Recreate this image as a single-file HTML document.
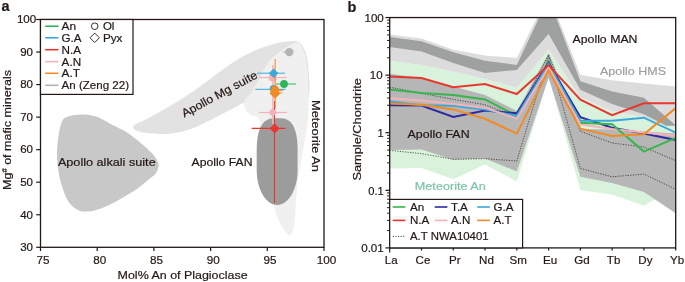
<!DOCTYPE html>
<html><head><meta charset="utf-8"><title>Figure</title>
<style>
html,body{margin:0;padding:0;background:#fff;}
svg{display:block;will-change:transform;opacity:0.999;}
text{font-family:"Liberation Sans",sans-serif;}
</style></head>
<body>
<svg width="685" height="282" viewBox="0 0 685 282">
<rect width="685" height="282" fill="#fff"/>
<path d="M57.0,152.0 C57.1,147.4 57.6,142.1 58.4,137.0 C59.2,131.9 60.2,125.0 62.0,121.5 C63.8,118.0 65.8,117.5 69.0,116.3 C72.2,115.1 77.4,114.7 81.2,114.6 C85.0,114.5 88.6,115.0 91.8,115.6 C95.0,116.2 96.8,116.6 100.3,118.2 C103.8,119.8 108.8,122.9 113.1,125.2 C117.4,127.5 121.6,129.0 126.3,132.0 C131.0,135.0 136.9,139.9 141.2,143.4 C145.4,146.9 149.2,150.2 151.8,153.0 C154.5,155.8 155.9,158.3 157.1,160.4 C158.3,162.5 159.0,163.6 158.8,165.7 C158.6,167.8 157.2,171.3 156.0,173.2 C154.8,175.1 154.3,174.9 151.4,177.3 C148.5,179.7 143.9,184.0 138.6,187.7 C133.3,191.4 125.5,196.0 119.5,199.4 C113.5,202.8 107.7,205.9 102.4,207.9 C97.1,209.9 91.8,211.2 87.6,211.5 C83.3,211.8 80.1,211.1 76.9,209.4 C73.7,207.7 70.7,204.8 68.4,201.5 C66.1,198.2 64.6,193.9 63.1,189.8 C61.6,185.7 60.4,181.2 59.5,177.0 C58.6,172.8 58.0,168.5 57.6,164.3 C57.2,160.1 56.9,156.6 57.0,152.0 Z" fill="#c8c8c8"/>
<path d="M132.9,127.6 C132.7,126.2 135.1,124.8 137.5,123.3 C139.9,121.8 141.9,121.5 147.6,118.5 C153.3,115.5 163.8,109.8 171.7,105.0 C179.6,100.2 185.1,96.9 195.0,90.0 C204.9,83.1 221.2,70.1 231.4,63.4 C241.6,56.7 248.9,53.2 256.0,50.0 C263.1,46.8 268.3,45.4 274.0,43.9 C279.7,42.4 285.8,41.6 290.0,41.3 C294.2,41.0 296.4,40.5 299.0,42.3 C301.6,44.1 303.9,47.4 305.5,52.0 C307.1,56.6 307.9,62.8 308.5,70.0 C309.1,77.2 310.4,89.2 309.0,95.0 C307.6,100.8 306.5,104.2 300.0,105.0 C293.5,105.8 279.3,100.3 270.0,100.0 C260.7,99.7 249.5,101.9 244.0,103.0 C238.5,104.1 241.2,104.3 237.0,106.4 C232.8,108.5 225.5,112.2 218.5,115.7 C211.5,119.2 202.8,124.4 195.0,127.4 C187.2,130.4 178.9,132.6 171.7,133.6 C164.5,134.6 157.2,133.9 151.8,133.6 C146.4,133.3 142.2,132.6 139.0,131.6 C135.8,130.6 133.2,129.0 132.9,127.6 Z" fill="#e2e2e2"/>
<path d="M298.0,42.8 C300.2,43.6 302.1,46.8 303.5,50.0 C304.9,53.2 305.7,56.3 306.5,62.0 C307.3,67.7 308.1,74.5 308.3,84.0 C308.6,93.5 309.1,107.0 308.0,119.0 C306.9,131.0 303.6,146.0 302.0,156.0 C300.4,166.0 299.3,171.7 298.3,179.0 C297.3,186.3 296.6,193.2 296.0,200.0 C295.4,206.8 295.4,214.8 294.8,220.0 C294.2,225.2 293.5,228.5 292.7,231.0 C291.9,233.5 290.8,234.8 289.8,235.2 C288.9,235.6 288.2,234.8 287.0,233.5 C285.8,232.2 283.9,230.0 282.3,227.3 C280.7,224.6 278.8,221.0 277.3,217.3 C275.9,213.6 275.2,211.2 273.6,205.0 C272.1,198.8 269.9,190.8 268.0,180.0 C266.1,169.2 263.4,150.1 262.0,140.0 C260.6,129.9 260.9,123.2 259.3,119.2 C257.7,115.2 254.4,117.1 252.3,115.7 C250.2,114.3 247.8,113.0 246.5,111.0 C245.2,109.0 244.3,106.2 244.2,104.0 C244.1,101.8 244.9,99.8 246.0,98.0 C247.1,96.2 249.0,96.3 251.0,93.5 C253.0,90.7 255.9,84.8 258.0,81.0 C260.1,77.2 261.2,74.0 263.3,70.5 C265.4,67.0 267.4,63.0 270.4,59.8 C273.3,56.5 277.7,53.5 281.0,51.0 C284.3,48.5 287.2,46.4 290.0,45.0 C292.8,43.6 295.8,42.0 298.0,42.8 Z" fill="#f0f0f0"/>
<path d="M256.7,170 L256.7,150 C256.7,130 262,118.3 274,118.3 L281,118.3 C292.5,118.3 297.6,130 297.6,150 L297.6,170 C297.6,189.3 288.4,205 277.15,205 C265.9,205 256.7,189.3 256.7,170 Z" fill="#9c9c9c"/>
<rect x="40.5" y="19.5" width="283.5" height="227.8" fill="none" stroke="#231815" stroke-width="1.3"/>
<line x1="36.2" y1="247.30" x2="40.5" y2="247.30" stroke="#231815" stroke-width="1.2"/>
<text x="26.6" y="251.1" font-size="11.6" text-anchor="middle" fill="#231815" stroke="#231815" stroke-width="0.2" textLength="12.8" lengthAdjust="spacingAndGlyphs" >30</text>
<line x1="36.2" y1="214.76" x2="40.5" y2="214.76" stroke="#231815" stroke-width="1.2"/>
<text x="26.6" y="218.56" font-size="11.6" text-anchor="middle" fill="#231815" stroke="#231815" stroke-width="0.2" textLength="12.8" lengthAdjust="spacingAndGlyphs" >40</text>
<line x1="36.2" y1="182.21" x2="40.5" y2="182.21" stroke="#231815" stroke-width="1.2"/>
<text x="26.6" y="186.01" font-size="11.6" text-anchor="middle" fill="#231815" stroke="#231815" stroke-width="0.2" textLength="12.8" lengthAdjust="spacingAndGlyphs" >50</text>
<line x1="36.2" y1="149.67" x2="40.5" y2="149.67" stroke="#231815" stroke-width="1.2"/>
<text x="26.6" y="153.47" font-size="11.6" text-anchor="middle" fill="#231815" stroke="#231815" stroke-width="0.2" textLength="12.8" lengthAdjust="spacingAndGlyphs" >60</text>
<line x1="36.2" y1="117.13" x2="40.5" y2="117.13" stroke="#231815" stroke-width="1.2"/>
<text x="26.6" y="120.93" font-size="11.6" text-anchor="middle" fill="#231815" stroke="#231815" stroke-width="0.2" textLength="12.8" lengthAdjust="spacingAndGlyphs" >70</text>
<line x1="36.2" y1="84.59" x2="40.5" y2="84.59" stroke="#231815" stroke-width="1.2"/>
<text x="26.6" y="88.39" font-size="11.6" text-anchor="middle" fill="#231815" stroke="#231815" stroke-width="0.2" textLength="12.8" lengthAdjust="spacingAndGlyphs" >80</text>
<line x1="36.2" y1="52.04" x2="40.5" y2="52.04" stroke="#231815" stroke-width="1.2"/>
<text x="26.6" y="55.84" font-size="11.6" text-anchor="middle" fill="#231815" stroke="#231815" stroke-width="0.2" textLength="12.8" lengthAdjust="spacingAndGlyphs" >90</text>
<line x1="36.2" y1="19.50" x2="40.5" y2="19.50" stroke="#231815" stroke-width="1.2"/>
<text x="26.6" y="23.3" font-size="11.6" text-anchor="middle" fill="#231815" stroke="#231815" stroke-width="0.2" textLength="19.4" lengthAdjust="spacingAndGlyphs" >100</text>
<line x1="40.50" y1="247.3" x2="40.50" y2="251.0" stroke="#231815" stroke-width="1.2"/>
<text x="43.1" y="263.9" font-size="11.6" text-anchor="middle" fill="#231815" stroke="#231815" stroke-width="0.2" textLength="13" lengthAdjust="spacingAndGlyphs" >75</text>
<line x1="97.20" y1="247.3" x2="97.20" y2="251.0" stroke="#231815" stroke-width="1.2"/>
<text x="99.8" y="263.9" font-size="11.6" text-anchor="middle" fill="#231815" stroke="#231815" stroke-width="0.2" textLength="13" lengthAdjust="spacingAndGlyphs" >80</text>
<line x1="153.90" y1="247.3" x2="153.90" y2="251.0" stroke="#231815" stroke-width="1.2"/>
<text x="156.5" y="263.9" font-size="11.6" text-anchor="middle" fill="#231815" stroke="#231815" stroke-width="0.2" textLength="13" lengthAdjust="spacingAndGlyphs" >85</text>
<line x1="210.60" y1="247.3" x2="210.60" y2="251.0" stroke="#231815" stroke-width="1.2"/>
<text x="213.2" y="263.9" font-size="11.6" text-anchor="middle" fill="#231815" stroke="#231815" stroke-width="0.2" textLength="13" lengthAdjust="spacingAndGlyphs" >90</text>
<line x1="267.30" y1="247.3" x2="267.30" y2="251.0" stroke="#231815" stroke-width="1.2"/>
<text x="269.9" y="263.9" font-size="11.6" text-anchor="middle" fill="#231815" stroke="#231815" stroke-width="0.2" textLength="13" lengthAdjust="spacingAndGlyphs" >95</text>
<line x1="324.00" y1="247.3" x2="324.00" y2="251.0" stroke="#231815" stroke-width="1.2"/>
<text x="326.6" y="263.9" font-size="11.6" text-anchor="middle" fill="#231815" stroke="#231815" stroke-width="0.2" textLength="19.6" lengthAdjust="spacingAndGlyphs" >100</text>
<text x="117.6" y="278.9" font-size="11.6" text-anchor="start" fill="#231815" stroke="#231815" stroke-width="0.2" textLength="130" lengthAdjust="spacingAndGlyphs" >Mol% An of Plagioclase</text>
<g transform="translate(10.8,190) rotate(-90)"><text x="0" y="0" font-size="11.6" text-anchor="start" fill="#231815" stroke="#231815" stroke-width="0.2" textLength="120" lengthAdjust="spacingAndGlyphs" >Mg<tspan dy="-3.5" font-size="7">#</tspan><tspan dy="3.5"> of mafic minerals</tspan></text></g>
<text x="1.5" y="10.7" font-size="14.5" text-anchor="start" fill="#231815" stroke="#231815" stroke-width="0.2" font-weight="bold" >a</text>
<text x="347.5" y="11.7" font-size="14.5" text-anchor="start" fill="#231815" stroke="#231815" stroke-width="0.2" font-weight="bold" >b</text>
<text x="57.9" y="166" font-size="11.6" text-anchor="start" fill="#231815" stroke="#231815" stroke-width="0.2" textLength="97.8" lengthAdjust="spacingAndGlyphs" >Apollo alkali suite</text>
<text x="191.5" y="166" font-size="11.6" text-anchor="start" fill="#231815" stroke="#231815" stroke-width="0.2" textLength="61" lengthAdjust="spacingAndGlyphs" >Apollo FAN</text>
<g transform="translate(184.2,117.6) rotate(-28.5)"><text x="0" y="0" font-size="11.6" text-anchor="start" fill="#231815" stroke="#231815" stroke-width="0.2" textLength="84.2" lengthAdjust="spacingAndGlyphs" >Apollo Mg suite</text></g>
<g transform="translate(311.7,100) rotate(90)"><text x="0" y="0" font-size="11.6" text-anchor="start" fill="#231815" stroke="#231815" stroke-width="0.2" textLength="72" lengthAdjust="spacingAndGlyphs" >Meteorite An</text></g>
<line x1="282.8" y1="52.1" x2="289" y2="52.1" stroke="#b4b4b4" stroke-width="1"/>
<circle cx="289.3" cy="52.1" r="4.2" fill="#b4b4b4"/>
<line x1="274.5" y1="101" x2="274.5" y2="203" stroke="#e7372f" stroke-width="1.1"/>
<line x1="251.7" y1="128.4" x2="285.6" y2="128.4" stroke="#e7372f" stroke-width="1.1"/>
<line x1="273" y1="65" x2="273" y2="124" stroke="#f4b3bb" stroke-width="1.6"/>
<line x1="258.9" y1="77.5" x2="286.9" y2="77.5" stroke="#f4b3bb" stroke-width="1.2"/>
<circle cx="272.7" cy="77.5" r="4" fill="#f4b3bb"/>
<line x1="258.5" y1="112.5" x2="286.9" y2="112.5" stroke="#f4b3bb" stroke-width="1.2"/>
<path d="M268.09999999999997,112.5 L272.7,107.9 L277.3,112.5 L272.7,117.1 Z" fill="#f4b3bb"/>
<path d="M269.6,128.4 L274.6,123.4 L279.6,128.4 L274.6,133.4 Z" fill="#e7372f"/>
<line x1="275.2" y1="58.9" x2="275.2" y2="108.3" stroke="#f08b25" stroke-width="1.4" opacity="0.75"/>
<line x1="257" y1="73.2" x2="285.1" y2="73.2" stroke="#3aa8d8" stroke-width="1"/>
<path d="M268.8,73.2 L273.6,68.4 L278.40000000000003,73.2 L273.6,78.0 Z" fill="#3aa8d8"/>
<line x1="255.3" y1="89.3" x2="285.5" y2="89.3" stroke="#3aa8d8" stroke-width="1"/>
<circle cx="273.6" cy="88.8" r="3.9" fill="#3aa8d8"/>
<line x1="276" y1="84" x2="296.1" y2="84" stroke="#2cb45e" stroke-width="1"/>
<circle cx="284" cy="84" r="3.9" fill="#2cb45e"/>
<line x1="270" y1="90.4" x2="283.2" y2="90.4" stroke="#f08b25" stroke-width="1"/>
<line x1="270" y1="92.9" x2="282.4" y2="92.9" stroke="#f08b25" stroke-width="1"/>
<circle cx="275" cy="89.7" r="4.2" fill="#f08b25"/>
<path d="M269.7,93.4 L275,88.10000000000001 L280.3,93.4 L275,98.7 Z" fill="#f08b25"/>
<rect x="40.5" y="19.5" width="92.5" height="74.9" fill="#fff" stroke="#231815" stroke-width="1.2"/>
<line x1="45.2" y1="26.2" x2="58.5" y2="26.2" stroke="#2cb45e" stroke-width="1.6"/>
<text x="61.6" y="30.2" font-size="11.6" text-anchor="start" fill="#231815" stroke="#231815" stroke-width="0.2" textLength="14.5" lengthAdjust="spacingAndGlyphs" >An</text>
<line x1="45.2" y1="37.8" x2="58.5" y2="37.8" stroke="#3aa8d8" stroke-width="1.6"/>
<text x="61.6" y="41.8" font-size="11.6" text-anchor="start" fill="#231815" stroke="#231815" stroke-width="0.2" textLength="20" lengthAdjust="spacingAndGlyphs" >G.A</text>
<line x1="45.2" y1="49.7" x2="58.5" y2="49.7" stroke="#e7372f" stroke-width="1.6"/>
<text x="61.6" y="53.7" font-size="11.6" text-anchor="start" fill="#231815" stroke="#231815" stroke-width="0.2" textLength="19.5" lengthAdjust="spacingAndGlyphs" >N.A</text>
<line x1="45.2" y1="61.6" x2="58.5" y2="61.6" stroke="#f4b3bb" stroke-width="1.6"/>
<text x="61.6" y="65.6" font-size="11.6" text-anchor="start" fill="#231815" stroke="#231815" stroke-width="0.2" textLength="19.5" lengthAdjust="spacingAndGlyphs" >A.N</text>
<line x1="45.2" y1="73.3" x2="58.5" y2="73.3" stroke="#f08b25" stroke-width="1.6"/>
<text x="61.6" y="77.3" font-size="11.6" text-anchor="start" fill="#231815" stroke="#231815" stroke-width="0.2" textLength="18.5" lengthAdjust="spacingAndGlyphs" >A.T</text>
<line x1="45.2" y1="85.3" x2="58.5" y2="85.3" stroke="#b4b4b4" stroke-width="1.6"/>
<text x="61.6" y="89.3" font-size="11.6" text-anchor="start" fill="#231815" stroke="#231815" stroke-width="0.2" textLength="67.5" lengthAdjust="spacingAndGlyphs" >An (Zeng 22)</text>
<circle cx="94.7" cy="26.2" r="3.3" fill="#fff" stroke="#231815" stroke-width="0.9"/>
<path d="M90,37.8 L94.7,33.1 L99.4,37.8 L94.7,42.5 Z" fill="#fff" stroke="#231815" stroke-width="0.9"/>
<text x="102.9" y="30.2" font-size="11.6" text-anchor="start" fill="#231815" stroke="#231815" stroke-width="0.2" textLength="11.5" lengthAdjust="spacingAndGlyphs" >Ol</text>
<text x="102.9" y="41.8" font-size="11.6" text-anchor="start" fill="#231815" stroke="#231815" stroke-width="0.2" textLength="19.5" lengthAdjust="spacingAndGlyphs" >Pyx</text>
<clipPath id="rc"><rect x="389.7" y="17.55" width="286.00000000000006" height="230.35"/></clipPath>
<g clip-path="url(#rc)">
<path d="M389.7,60.7 L421.5,65.0 L453.3,71.4 L485.0,79.1 L516.8,87.7 L548.6,49.6 L580.4,97.2 L612.1,111.3 L643.9,117.0 L675.7,125.5 L675.7,188.0 L643.9,205.6 L612.1,194.5 L580.4,190.0 L548.6,77.0 L516.8,181.4 L485.0,164.6 L453.3,179.2 L421.5,168.0 L389.7,168.6 Z" fill="#d8f2dc"/>
<path d="M389.7,34.6 L421.5,38.4 L453.3,49.7 L485.0,55.4 L516.8,58.0 L548.6,-6.0 L580.4,74.9 L612.1,80.2 L643.9,83.5 L675.7,86.6 L675.7,125.5 L666.0,125.5 L643.9,117.0 L612.1,111.3 L580.4,97.2 L548.6,49.6 L516.8,87.7 L485.0,79.1 L453.3,71.4 L421.5,65.0 L389.7,60.7 Z" fill="#dcdcdc"/>
<path d="M389.7,73.8 L421.5,78.0 L453.3,86.6 L485.0,95.1 L516.8,111.0 L548.6,53.4 L580.4,129.0 L612.1,129.4 L643.9,131.5 L675.7,133.6 L675.7,213.2 L643.9,192.0 L612.1,183.0 L580.4,176.8 L548.6,77.9 L516.8,171.4 L485.0,158.5 L453.3,159.8 L421.5,149.4 L389.7,150.0 Z" fill="#b6b6b7"/>
<path d="M389.7,36.9 L421.5,41.2 L453.3,52.2 L485.0,60.7 L516.8,65.0 L548.6,-2.5 L580.4,81.3 L612.1,91.5 L643.9,97.8 L675.7,125.3 L675.7,125.7 L666.0,125.7 L643.9,114.2 L612.1,104.0 L580.4,89.8 L548.6,34.0 L516.8,69.9 L485.0,72.9 L453.3,62.9 L421.5,51.6 L389.7,46.9 Z" fill="#9fa0a0"/>
<path d="M389.7,87.2 L421.5,93.3 L453.3,99.4 L485.0,104.7 L516.8,117.0 L548.6,54.5 L580.4,131.3 L612.1,143.0 L643.9,147.0 L675.7,160.6" fill="none" stroke="#231815" stroke-width="0.7" stroke-linejoin="miter" stroke-dasharray="1.2,1.35"/>
<path d="M389.7,150.4 L421.5,153.6 L453.3,159.3 L485.0,158.7 L516.8,161.0 L548.6,56.0 L580.4,168.4 L612.1,176.8 L643.9,174.1 L675.7,189.3" fill="none" stroke="#231815" stroke-width="0.7" stroke-linejoin="miter" stroke-dasharray="1.2,1.35"/>
<path d="M389.7,89.6 L421.5,93.1 L453.3,95.1 L485.0,99.4 L516.8,116.0 L548.6,61.5 L580.4,122.8" fill="none" stroke="#36b74b" stroke-width="2.0" stroke-linejoin="miter"/>
<path d="M389.7,105.2 L421.5,105.5 L453.3,117.0 L485.0,110.6 L516.8,113.2 L548.6,63.0 L580.4,117.2 L612.1,127.8 L643.9,133.6 L675.7,140.0" fill="none" stroke="#2e2aa0" stroke-width="2.0" stroke-linejoin="miter"/>
<path d="M389.7,101.5 L421.5,105.2 L453.3,105.7 L485.0,109.4 L516.8,115.8 L548.6,64.0 L580.4,120.7 L612.1,120.8 L643.9,117.7 L675.7,132.6" fill="none" stroke="#3aa8d8" stroke-width="2.0" stroke-linejoin="miter"/>
<path d="M389.7,98.3 L421.5,100.4 L453.3,104.0 L485.0,107.9 L516.8,118.6 L548.6,67.2 L580.4,124.3 L612.1,129.0 L643.9,132.6 L675.7,135.7" fill="none" stroke="#f4b3bb" stroke-width="2.0" stroke-linejoin="miter"/>
<path d="M580.4,122.8 L612.1,124.2 L643.9,151.6 L675.7,137.8" fill="none" stroke="#36b74b" stroke-width="2.0" stroke-linejoin="miter"/>
<path d="M389.7,103.4 L421.5,104.7 L453.3,109.4 L485.0,118.8 L516.8,133.6 L548.6,70.4 L580.4,128.7 L612.1,135.9 L643.9,134.3 L675.7,108.1" fill="none" stroke="#f08b25" stroke-width="2.0" stroke-linejoin="miter"/>
<path d="M389.7,76.6 L421.5,78.1 L453.3,87.2 L485.0,84.0 L516.8,94.0 L548.6,65.1 L580.4,99.6 L612.1,115.2 L643.9,103.2 L675.7,103.2" fill="none" stroke="#e7372f" stroke-width="2.0" stroke-linejoin="miter"/>
</g>
<rect x="389.7" y="17.55" width="286.00000000000006" height="230.35" fill="none" stroke="#231815" stroke-width="1.3"/>
<line x1="385.4" y1="17.55" x2="389.7" y2="17.55" stroke="#231815" stroke-width="1.2"/>
<text x="383.8" y="21.85" font-size="11.6" text-anchor="end" fill="#231815" stroke="#231815" stroke-width="0.2" textLength="19.3" lengthAdjust="spacingAndGlyphs" >100</text>
<line x1="387.10" y1="57.80" x2="389.7" y2="57.80" stroke="#231815" stroke-width="1"/>
<line x1="387.10" y1="47.66" x2="389.7" y2="47.66" stroke="#231815" stroke-width="1"/>
<line x1="387.10" y1="40.47" x2="389.7" y2="40.47" stroke="#231815" stroke-width="1"/>
<line x1="387.10" y1="34.89" x2="389.7" y2="34.89" stroke="#231815" stroke-width="1"/>
<line x1="387.10" y1="30.33" x2="389.7" y2="30.33" stroke="#231815" stroke-width="1"/>
<line x1="387.10" y1="26.47" x2="389.7" y2="26.47" stroke="#231815" stroke-width="1"/>
<line x1="387.10" y1="23.13" x2="389.7" y2="23.13" stroke="#231815" stroke-width="1"/>
<line x1="387.10" y1="20.19" x2="389.7" y2="20.19" stroke="#231815" stroke-width="1"/>
<line x1="385.4" y1="75.14" x2="389.7" y2="75.14" stroke="#231815" stroke-width="1.2"/>
<text x="382.6" y="79.44" font-size="11.6" text-anchor="end" fill="#231815" stroke="#231815" stroke-width="0.2" textLength="12.8" lengthAdjust="spacingAndGlyphs" >10</text>
<line x1="387.10" y1="115.39" x2="389.7" y2="115.39" stroke="#231815" stroke-width="1"/>
<line x1="387.10" y1="105.25" x2="389.7" y2="105.25" stroke="#231815" stroke-width="1"/>
<line x1="387.10" y1="98.05" x2="389.7" y2="98.05" stroke="#231815" stroke-width="1"/>
<line x1="387.10" y1="92.47" x2="389.7" y2="92.47" stroke="#231815" stroke-width="1"/>
<line x1="387.10" y1="87.91" x2="389.7" y2="87.91" stroke="#231815" stroke-width="1"/>
<line x1="387.10" y1="84.06" x2="389.7" y2="84.06" stroke="#231815" stroke-width="1"/>
<line x1="387.10" y1="80.72" x2="389.7" y2="80.72" stroke="#231815" stroke-width="1"/>
<line x1="387.10" y1="77.77" x2="389.7" y2="77.77" stroke="#231815" stroke-width="1"/>
<line x1="385.4" y1="132.72" x2="389.7" y2="132.72" stroke="#231815" stroke-width="1.2"/>
<text x="383.8" y="137.03" font-size="11.6" text-anchor="end" fill="#231815" stroke="#231815" stroke-width="0.2" textLength="6.2" lengthAdjust="spacingAndGlyphs" >1</text>
<line x1="387.10" y1="172.98" x2="389.7" y2="172.98" stroke="#231815" stroke-width="1"/>
<line x1="387.10" y1="162.84" x2="389.7" y2="162.84" stroke="#231815" stroke-width="1"/>
<line x1="387.10" y1="155.64" x2="389.7" y2="155.64" stroke="#231815" stroke-width="1"/>
<line x1="387.10" y1="150.06" x2="389.7" y2="150.06" stroke="#231815" stroke-width="1"/>
<line x1="387.10" y1="145.50" x2="389.7" y2="145.50" stroke="#231815" stroke-width="1"/>
<line x1="387.10" y1="141.65" x2="389.7" y2="141.65" stroke="#231815" stroke-width="1"/>
<line x1="387.10" y1="138.31" x2="389.7" y2="138.31" stroke="#231815" stroke-width="1"/>
<line x1="387.10" y1="135.36" x2="389.7" y2="135.36" stroke="#231815" stroke-width="1"/>
<line x1="385.4" y1="190.31" x2="389.7" y2="190.31" stroke="#231815" stroke-width="1.2"/>
<text x="383.8" y="194.61" font-size="11.6" text-anchor="end" fill="#231815" stroke="#231815" stroke-width="0.2" textLength="15.5" lengthAdjust="spacingAndGlyphs" >0.1</text>
<line x1="387.10" y1="230.56" x2="389.7" y2="230.56" stroke="#231815" stroke-width="1"/>
<line x1="387.10" y1="220.42" x2="389.7" y2="220.42" stroke="#231815" stroke-width="1"/>
<line x1="387.10" y1="213.23" x2="389.7" y2="213.23" stroke="#231815" stroke-width="1"/>
<line x1="387.10" y1="207.65" x2="389.7" y2="207.65" stroke="#231815" stroke-width="1"/>
<line x1="387.10" y1="203.09" x2="389.7" y2="203.09" stroke="#231815" stroke-width="1"/>
<line x1="387.10" y1="199.23" x2="389.7" y2="199.23" stroke="#231815" stroke-width="1"/>
<line x1="387.10" y1="195.89" x2="389.7" y2="195.89" stroke="#231815" stroke-width="1"/>
<line x1="387.10" y1="192.95" x2="389.7" y2="192.95" stroke="#231815" stroke-width="1"/>
<line x1="385.4" y1="247.90" x2="389.7" y2="247.90" stroke="#231815" stroke-width="1.2"/>
<text x="383.8" y="252.2" font-size="11.6" text-anchor="end" fill="#231815" stroke="#231815" stroke-width="0.2" textLength="22.6" lengthAdjust="spacingAndGlyphs" >0.01</text>
<line x1="389.70" y1="247.9" x2="389.70" y2="252.4" stroke="#231815" stroke-width="1.2"/>
<text x="391.2" y="263.7" font-size="11.6" text-anchor="middle" fill="#231815" stroke="#231815" stroke-width="0.2" >La</text>
<line x1="421.48" y1="247.9" x2="421.48" y2="250.5" stroke="#231815" stroke-width="1.2"/>
<text x="422.98" y="263.7" font-size="11.6" text-anchor="middle" fill="#231815" stroke="#231815" stroke-width="0.2" >Ce</text>
<line x1="453.26" y1="247.9" x2="453.26" y2="250.5" stroke="#231815" stroke-width="1.2"/>
<text x="454.76" y="263.7" font-size="11.6" text-anchor="middle" fill="#231815" stroke="#231815" stroke-width="0.2" >Pr</text>
<line x1="485.03" y1="247.9" x2="485.03" y2="250.5" stroke="#231815" stroke-width="1.2"/>
<text x="486.53" y="263.7" font-size="11.6" text-anchor="middle" fill="#231815" stroke="#231815" stroke-width="0.2" >Nd</text>
<line x1="516.81" y1="247.9" x2="516.81" y2="250.5" stroke="#231815" stroke-width="1.2"/>
<text x="518.31" y="263.7" font-size="11.6" text-anchor="middle" fill="#231815" stroke="#231815" stroke-width="0.2" >Sm</text>
<line x1="548.59" y1="247.9" x2="548.59" y2="250.5" stroke="#231815" stroke-width="1.2"/>
<text x="550.09" y="263.7" font-size="11.6" text-anchor="middle" fill="#231815" stroke="#231815" stroke-width="0.2" >Eu</text>
<line x1="580.37" y1="247.9" x2="580.37" y2="250.5" stroke="#231815" stroke-width="1.2"/>
<text x="581.87" y="263.7" font-size="11.6" text-anchor="middle" fill="#231815" stroke="#231815" stroke-width="0.2" >Gd</text>
<line x1="612.14" y1="247.9" x2="612.14" y2="250.5" stroke="#231815" stroke-width="1.2"/>
<text x="613.64" y="263.7" font-size="11.6" text-anchor="middle" fill="#231815" stroke="#231815" stroke-width="0.2" >Tb</text>
<line x1="643.92" y1="247.9" x2="643.92" y2="250.5" stroke="#231815" stroke-width="1.2"/>
<text x="645.42" y="263.7" font-size="11.6" text-anchor="middle" fill="#231815" stroke="#231815" stroke-width="0.2" >Dy</text>
<line x1="675.70" y1="247.9" x2="675.70" y2="250.5" stroke="#231815" stroke-width="1.2"/>
<text x="677.2" y="263.7" font-size="11.6" text-anchor="middle" fill="#231815" stroke="#231815" stroke-width="0.2" >Yb</text>
<g transform="translate(360.5,180.6) rotate(-90)"><text x="0" y="0" font-size="11.6" text-anchor="start" fill="#231815" stroke="#231815" stroke-width="0.2" textLength="102.5" lengthAdjust="spacingAndGlyphs" >Sample/Chondrite</text></g>
<text x="572.5" y="42.5" font-size="11.6" text-anchor="start" fill="#231815" stroke="#231815" stroke-width="0.2" textLength="65" lengthAdjust="spacingAndGlyphs" >Apollo MAN</text>
<text x="600" y="75" font-size="11.6" text-anchor="start" fill="#9e9e9e" stroke="#9e9e9e" stroke-width="0.2" textLength="66" lengthAdjust="spacingAndGlyphs" >Apollo HMS</text>
<text x="407.6" y="138" font-size="11.6" text-anchor="start" fill="#231815" stroke="#231815" stroke-width="0.2" textLength="62" lengthAdjust="spacingAndGlyphs" >Apollo FAN</text>
<text x="414.8" y="189.8" font-size="11.6" text-anchor="start" fill="#7cc6a6" stroke="#7cc6a6" stroke-width="0.2" textLength="71" lengthAdjust="spacingAndGlyphs" >Meteorite An</text>
<rect x="389.7" y="199.4" width="132.90000000000003" height="48.5" fill="#fff" stroke="#231815" stroke-width="1.2"/>
<line x1="392.7" y1="207" x2="405.4" y2="207" stroke="#36b74b" stroke-width="1.6"/>
<text x="410.0" y="210.7" font-size="11.6" text-anchor="start" fill="#231815" stroke="#231815" stroke-width="0.2" >An</text>
<line x1="434.7" y1="207" x2="447.4" y2="207" stroke="#2e2aa0" stroke-width="1.6"/>
<text x="451.09999999999997" y="210.7" font-size="11.6" text-anchor="start" fill="#231815" stroke="#231815" stroke-width="0.2" >T.A</text>
<line x1="477.2" y1="207" x2="489.9" y2="207" stroke="#3aa8d8" stroke-width="1.6"/>
<text x="493.59999999999997" y="210.7" font-size="11.6" text-anchor="start" fill="#231815" stroke="#231815" stroke-width="0.2" >G.A</text>
<line x1="392.7" y1="220.4" x2="405.4" y2="220.4" stroke="#e7372f" stroke-width="1.6"/>
<text x="410.0" y="224.4" font-size="11.6" text-anchor="start" fill="#231815" stroke="#231815" stroke-width="0.2" >N.A</text>
<line x1="434.7" y1="220.4" x2="447.4" y2="220.4" stroke="#f4b3bb" stroke-width="1.6"/>
<text x="451.09999999999997" y="224.4" font-size="11.6" text-anchor="start" fill="#231815" stroke="#231815" stroke-width="0.2" >A.N</text>
<line x1="477.2" y1="220.4" x2="489.9" y2="220.4" stroke="#f08b25" stroke-width="1.6"/>
<text x="493.59999999999997" y="224.4" font-size="11.6" text-anchor="start" fill="#231815" stroke="#231815" stroke-width="0.2" >A.T</text>
<line x1="392.9" y1="236.4" x2="405.6" y2="236.4" stroke="#231815" stroke-width="0.8" stroke-dasharray="1.2,1.35"/>
<text x="410" y="240.3" font-size="11.6" text-anchor="start" fill="#231815" stroke="#231815" stroke-width="0.2" textLength="78.6" lengthAdjust="spacingAndGlyphs" >A.T NWA10401</text>
</svg>
</body></html>
